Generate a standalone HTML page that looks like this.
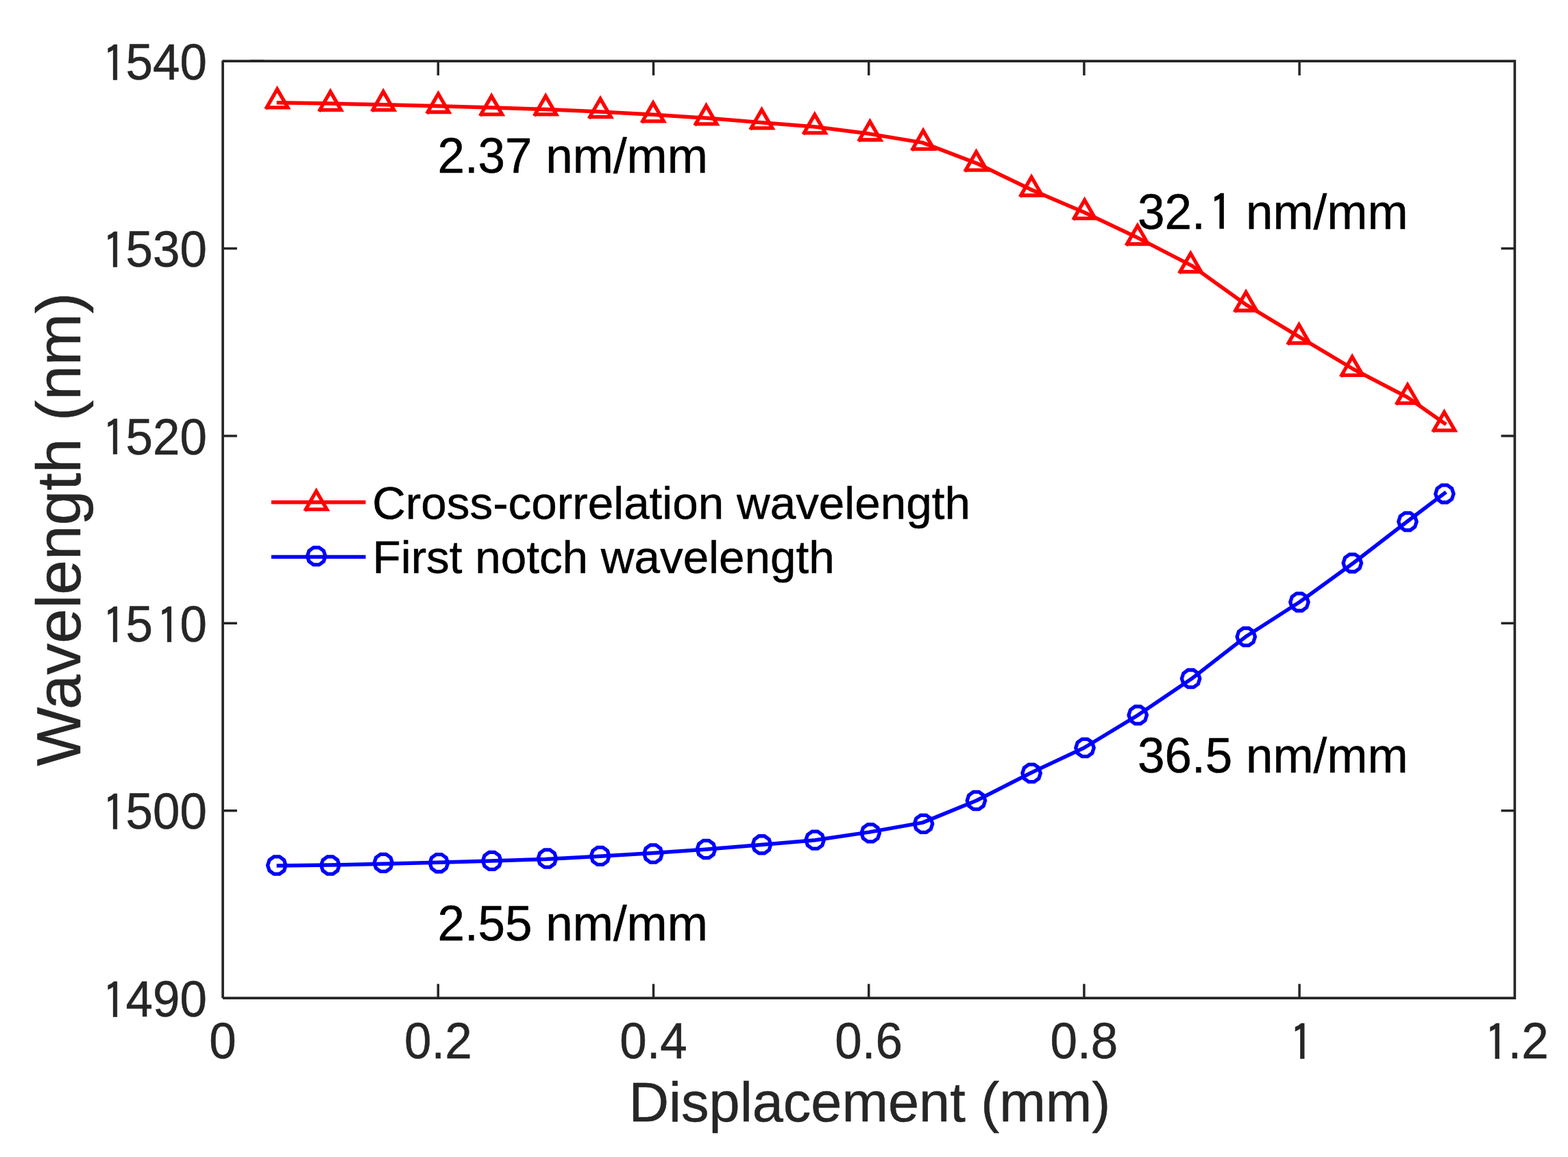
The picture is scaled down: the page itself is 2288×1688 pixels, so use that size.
<!DOCTYPE html><html><head><meta charset="utf-8"><style>html,body{margin:0;padding:0;background:#fff;overflow:hidden}svg{display:block}text{font-family:"Liberation Sans",Arial,Helvetica,sans-serif;stroke-width:0.5px;stroke-linejoin:round}</style></head><body>
<svg width="2288" height="1688" viewBox="0 0 2288 1688">
<rect width="2288" height="1688" fill="#fff"/>
<path d="M403.65,149.75L482.20,151.10L560.75,152.80L639.30,154.80L717.85,157.00L796.40,159.60L874.95,163.10L953.50,167.30L1032.05,172.30L1110.60,178.80L1189.15,184.90L1267.70,195.10L1346.25,208.10L1424.80,238.10L1503.35,276.10L1581.90,309.70L1660.45,347.10L1739.00,387.60L1817.55,444.10L1896.10,491.60L1974.65,538.50L2053.20,579.30L2110.10,619.30" fill="none" stroke="#ff0000" stroke-width="5.5" stroke-linejoin="round"/>
<path d="M403.65,1263.10L482.20,1262.00L560.75,1260.30L639.30,1258.20L717.85,1256.00L796.40,1253.50L874.95,1249.20L953.50,1244.60L1032.05,1239.10L1110.60,1232.50L1189.15,1225.80L1267.70,1214.10L1346.25,1200.10L1424.80,1168.00L1503.35,1128.00L1581.90,1091.00L1660.45,1043.30L1739.00,990.05L1817.55,929.05L1896.10,878.45L1974.65,821.45L2053.20,760.95L2110.10,717.90" fill="none" stroke="#0000ff" stroke-width="5.5" stroke-linejoin="round"/>
<path d="M387.73,159.21L404.50,130.17L419.94,156.92L389.06,156.92M465.33,162.71L482.10,133.67L497.54,160.42L466.66,160.42M542.53,162.71L559.30,133.67L574.74,160.42L543.86,160.42M622.73,165.81L639.50,136.77L654.94,163.52L624.06,163.52M700.43,169.21L717.20,140.17L732.64,166.92L701.76,166.92M779.43,169.21L796.20,140.17L811.64,166.92L780.76,166.92M859.23,173.01L876.00,143.97L891.44,170.72L860.56,170.72M936.23,179.21L953.00,150.17L968.44,176.92L937.56,176.92M1013.73,183.11L1030.50,154.07L1045.94,180.82L1015.06,180.82M1094.73,189.21L1111.50,160.17L1126.94,186.92L1096.06,186.92M1172.03,196.11L1188.80,167.07L1204.24,193.82L1173.36,193.82M1252.63,206.31L1269.40,177.27L1284.84,204.02L1253.96,204.02M1330.33,219.71L1347.10,190.67L1362.54,217.42L1331.66,217.42M1407.73,250.51L1424.50,221.47L1439.94,248.22L1409.06,248.22M1488.33,287.31L1505.10,258.27L1520.54,285.02L1489.66,285.02M1565.83,320.91L1582.60,291.87L1598.04,318.62L1567.16,318.62M1643.13,358.31L1659.90,329.27L1675.34,356.02L1644.46,356.02M1720.53,398.81L1737.30,369.77L1752.74,396.52L1721.86,396.52M1801.33,455.31L1818.10,426.27L1833.54,453.02L1802.66,453.02M1878.73,502.81L1895.50,473.77L1910.94,500.52L1880.06,500.52M1956.33,549.71L1973.10,520.67L1988.54,547.42L1957.66,547.42M2037.13,590.51L2053.90,561.47L2069.34,588.22L2038.46,588.22M2090.63,630.26L2107.40,601.22L2122.84,627.97L2091.96,627.97" fill="none" stroke="#ff0000" stroke-width="5.3" stroke-linejoin="miter" stroke-miterlimit="10"/>
<path d="M417.00,1262.50L414.48,1270.26L407.88,1275.05L399.72,1275.05L393.12,1270.26L390.60,1262.50L393.12,1254.74L399.72,1249.95L407.88,1249.95L414.48,1254.74ZM495.00,1262.50L492.48,1270.26L485.88,1275.05L477.72,1275.05L471.12,1270.26L468.60,1262.50L471.12,1254.74L477.72,1249.95L485.88,1249.95L492.48,1254.74ZM572.50,1258.90L569.98,1266.66L563.38,1271.45L555.22,1271.45L548.62,1266.66L546.10,1258.90L548.62,1251.14L555.22,1246.35L563.38,1246.35L569.98,1251.14ZM653.60,1259.20L651.08,1266.96L644.48,1271.75L636.32,1271.75L629.72,1266.96L627.20,1259.20L629.72,1251.44L636.32,1246.65L644.48,1246.65L651.08,1251.44ZM730.90,1255.90L728.38,1263.66L721.78,1268.45L713.62,1268.45L707.02,1263.66L704.50,1255.90L707.02,1248.14L713.62,1243.35L721.78,1243.35L728.38,1248.14ZM811.60,1252.50L809.08,1260.26L802.48,1265.05L794.32,1265.05L787.72,1260.26L785.20,1252.50L787.72,1244.74L794.32,1239.95L802.48,1239.95L809.08,1244.74ZM888.90,1248.85L886.38,1256.61L879.78,1261.40L871.62,1261.40L865.02,1256.61L862.50,1248.85L865.02,1241.09L871.62,1236.30L879.78,1236.30L886.38,1241.09ZM966.20,1245.50L963.68,1253.26L957.08,1258.05L948.92,1258.05L942.32,1253.26L939.80,1245.50L942.32,1237.74L948.92,1232.95L957.08,1232.95L963.68,1237.74ZM1043.60,1239.00L1041.08,1246.76L1034.48,1251.55L1026.32,1251.55L1019.72,1246.76L1017.20,1239.00L1019.72,1231.24L1026.32,1226.45L1034.48,1226.45L1041.08,1231.24ZM1124.70,1232.30L1122.18,1240.06L1115.58,1244.85L1107.42,1244.85L1100.82,1240.06L1098.30,1232.30L1100.82,1224.54L1107.42,1219.75L1115.58,1219.75L1122.18,1224.54ZM1202.30,1225.60L1199.78,1233.36L1193.18,1238.15L1185.02,1238.15L1178.42,1233.36L1175.90,1225.60L1178.42,1217.84L1185.02,1213.05L1193.18,1213.05L1199.78,1217.84ZM1283.40,1215.40L1280.88,1223.16L1274.28,1227.95L1266.12,1227.95L1259.52,1223.16L1257.00,1215.40L1259.52,1207.64L1266.12,1202.85L1274.28,1202.85L1280.88,1207.64ZM1360.70,1201.90L1358.18,1209.66L1351.58,1214.45L1343.42,1214.45L1336.82,1209.66L1334.30,1201.90L1336.82,1194.14L1343.42,1189.35L1351.58,1189.35L1358.18,1194.14ZM1437.60,1168.00L1435.08,1175.76L1428.48,1180.55L1420.32,1180.55L1413.72,1175.76L1411.20,1168.00L1413.72,1160.24L1420.32,1155.45L1428.48,1155.45L1435.08,1160.24ZM1518.30,1128.00L1515.78,1135.76L1509.18,1140.55L1501.02,1140.55L1494.42,1135.76L1491.90,1128.00L1494.42,1120.24L1501.02,1115.45L1509.18,1115.45L1515.78,1120.24ZM1596.20,1091.00L1593.68,1098.76L1587.08,1103.55L1578.92,1103.55L1572.32,1098.76L1569.80,1091.00L1572.32,1083.24L1578.92,1078.45L1587.08,1078.45L1593.68,1083.24ZM1673.40,1043.30L1670.88,1051.06L1664.28,1055.85L1656.12,1055.85L1649.52,1051.06L1647.00,1043.30L1649.52,1035.54L1656.12,1030.75L1664.28,1030.75L1670.88,1035.54ZM1750.80,990.05L1748.28,997.81L1741.68,1002.60L1733.52,1002.60L1726.92,997.81L1724.40,990.05L1726.92,982.29L1733.52,977.50L1741.68,977.50L1748.28,982.29ZM1831.45,929.05L1828.93,936.81L1822.33,941.60L1814.17,941.60L1807.57,936.81L1805.05,929.05L1807.57,921.29L1814.17,916.50L1822.33,916.50L1828.93,921.29ZM1909.15,878.45L1906.63,886.21L1900.03,891.00L1891.87,891.00L1885.27,886.21L1882.75,878.45L1885.27,870.69L1891.87,865.90L1900.03,865.90L1906.63,870.69ZM1986.50,821.45L1983.98,829.21L1977.38,834.00L1969.22,834.00L1962.62,829.21L1960.10,821.45L1962.62,813.69L1969.22,808.90L1977.38,808.90L1983.98,813.69ZM2067.10,760.95L2064.58,768.71L2057.98,773.50L2049.82,773.50L2043.22,768.71L2040.70,760.95L2043.22,753.19L2049.82,748.40L2057.98,748.40L2064.58,753.19ZM2121.05,720.45L2118.53,728.21L2111.93,733.00L2103.77,733.00L2097.17,728.21L2094.65,720.45L2097.17,712.69L2103.77,707.90L2111.93,707.90L2118.53,712.69Z" fill="none" stroke="#0000ff" stroke-width="5.3" stroke-linejoin="miter"/>
<path d="M639.30,1456.20V1435.40M639.30,89.10V109.90M953.50,1456.20V1435.40M953.50,89.10V109.90M1267.70,1456.20V1435.40M1267.70,89.10V109.90M1581.90,1456.20V1435.40M1581.90,89.10V109.90M1896.10,1456.20V1435.40M1896.10,89.10V109.90M325.10,1182.78H345.90M2210.30,1182.78H2190.40M325.10,909.36H345.90M2210.30,909.36H2190.40M325.10,635.94H345.90M2210.30,635.94H2190.40M325.10,362.52H345.90M2210.30,362.52H2190.40" fill="none" stroke="#262626" stroke-width="3.5"/>
<path d="M325.1,1456.2V89.1H385.1" fill="none" stroke="#262626" stroke-width="3.7" stroke-linejoin="bevel"/>
<path d="M365.1,89.1H2210.3V1456.2H325.1" fill="none" stroke="#262626" stroke-width="3.7" stroke-linejoin="miter"/>
<text transform="translate(144.05,1482.90) scale(1,1.041)" font-size="71.0" fill="#262626" stroke="#262626"><tspan x="5.42" y="3.56" font-family="IPAGothic" font-size="70.05">1</tspan><tspan x="39.49" y="0">490</tspan></text>
<text transform="translate(144.05,1209.48) scale(1,1.041)" font-size="71.0" fill="#262626" stroke="#262626"><tspan x="5.42" y="3.56" font-family="IPAGothic" font-size="70.05">1</tspan><tspan x="39.49" y="0">500</tspan></text>
<text transform="translate(144.05,936.06) scale(1,1.041)" font-size="71.0" fill="#262626" stroke="#262626"><tspan x="5.42" y="3.56" font-family="IPAGothic" font-size="70.05">1</tspan><tspan x="39.49" y="0">5</tspan><tspan x="84.40" y="3.56" font-family="IPAGothic" font-size="70.05">1</tspan><tspan x="118.46" y="0">0</tspan></text>
<text transform="translate(144.05,662.64) scale(1,1.041)" font-size="71.0" fill="#262626" stroke="#262626"><tspan x="5.42" y="3.56" font-family="IPAGothic" font-size="70.05">1</tspan><tspan x="39.49" y="0">520</tspan></text>
<text transform="translate(144.05,389.22) scale(1,1.041)" font-size="71.0" fill="#262626" stroke="#262626"><tspan x="5.42" y="3.56" font-family="IPAGothic" font-size="70.05">1</tspan><tspan x="39.49" y="0">530</tspan></text>
<text transform="translate(144.05,115.80) scale(1,1.041)" font-size="71.0" fill="#262626" stroke="#262626"><tspan x="5.42" y="3.56" font-family="IPAGothic" font-size="70.05">1</tspan><tspan x="39.49" y="0">540</tspan></text>
<text transform="translate(305.36,1544.00) scale(1,1.041)" font-size="71.0" fill="#262626" stroke="#262626"><tspan x="0.00" y="0">0</tspan></text>
<text transform="translate(589.95,1544.00) scale(1,1.041)" font-size="71.0" fill="#262626" stroke="#262626"><tspan x="0.00" y="0">0.2</tspan></text>
<text transform="translate(904.15,1544.00) scale(1,1.041)" font-size="71.0" fill="#262626" stroke="#262626"><tspan x="0.00" y="0">0.4</tspan></text>
<text transform="translate(1218.35,1544.00) scale(1,1.041)" font-size="71.0" fill="#262626" stroke="#262626"><tspan x="0.00" y="0">0.6</tspan></text>
<text transform="translate(1532.55,1544.00) scale(1,1.041)" font-size="71.0" fill="#262626" stroke="#262626"><tspan x="0.00" y="0">0.8</tspan></text>
<text transform="translate(1876.36,1544.00) scale(1,1.041)" font-size="71.0" fill="#262626" stroke="#262626"><tspan x="5.42" y="3.56" font-family="IPAGothic" font-size="70.05">1</tspan></text>
<text transform="translate(2160.95,1544.00) scale(1,1.041)" font-size="71.0" fill="#262626" stroke="#262626"><tspan x="5.42" y="3.56" font-family="IPAGothic" font-size="70.05">1</tspan><tspan x="39.49" y="0">.2</tspan></text>
<text transform="translate(1268.9,1635.9) scale(1,1.0)" font-size="81.1" fill="#262626" stroke="#262626" text-anchor="middle">Displacement (mm)</text>
<text transform="translate(116.96,772.25) rotate(-90) scale(1,1.0)" font-size="91.2" fill="#262626" stroke="#262626" text-anchor="middle">Wavelength (nm)</text>
<text transform="translate(638.40,251.70) scale(1,1.015)" font-size="71.0" fill="#000" stroke="#000"><tspan x="0.00" y="0">2.37</tspan><tspan x="138.19" y="0"> nm/mm</tspan></text>
<text transform="translate(1660.10,333.70) scale(1,1.015)" font-size="71.0" fill="#000" stroke="#000"><tspan x="0.00" y="0">32.</tspan><tspan x="103.57" y="3.65" font-family="IPAGothic" font-size="71.84">1</tspan><tspan x="138.19" y="0"> nm/mm</tspan></text>
<text transform="translate(1660.10,1126.80) scale(1,1.015)" font-size="71.0" fill="#000" stroke="#000"><tspan x="0.00" y="0">36.5</tspan><tspan x="138.19" y="0"> nm/mm</tspan></text>
<text transform="translate(638.40,1371.70) scale(1,1.015)" font-size="71.0" fill="#000" stroke="#000"><tspan x="0.00" y="0">2.55</tspan><tspan x="138.19" y="0"> nm/mm</tspan></text>
<path d="M395.9,732.75H533.6" stroke="#ff0000" stroke-width="5.5"/>
<path d="M444.73,745.51L461.50,716.47L476.94,743.22L446.06,743.22" fill="none" stroke="#ff0000" stroke-width="5.3"/>
<path d="M395.9,812.5H533.6" stroke="#0000ff" stroke-width="5.5"/>
<path d="M474.80,811.40L472.28,819.16L465.68,823.95L457.52,823.95L450.92,819.16L448.40,811.40L450.92,803.64L457.52,798.85L465.68,798.85L472.28,803.64Z" fill="none" stroke="#0000ff" stroke-width="5.3"/>
<text transform="translate(543.2,756.5) scale(1,1.0)" font-size="67.4" fill="#000" stroke="#000">Cross-correlation wavelength</text>
<text transform="translate(543.5,835.9) scale(1,1.0)" font-size="67.4" fill="#000" stroke="#000">First notch wavelength</text>
</svg></body></html>
